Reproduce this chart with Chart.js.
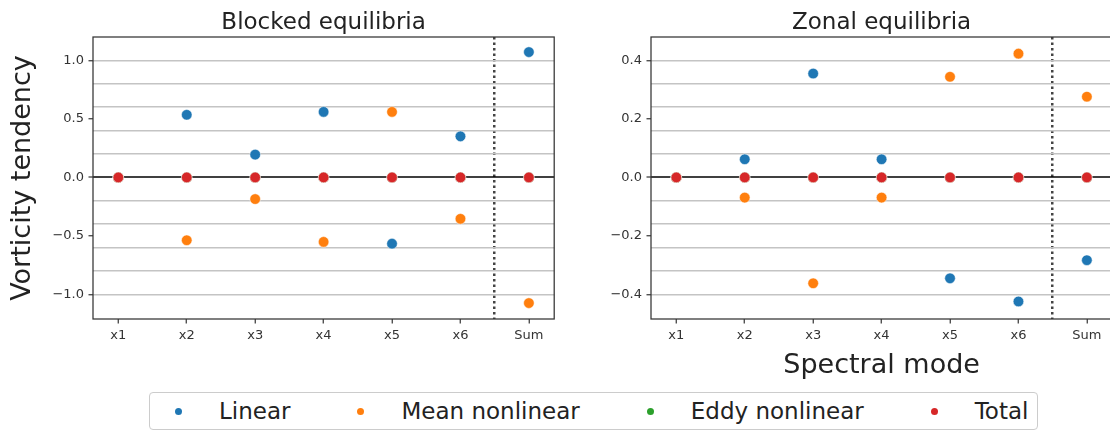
<!DOCTYPE html>
<html>
<head>
<meta charset="utf-8">
<script src="https://cdn.jsdelivr.net/npm/chart.js@4.4.0/dist/chart.umd.min.js"></script>
<style>
  html, body { margin: 0; padding: 0; background: #fff; overflow: hidden; width: 1110px; height: 432px; }
  canvas { position: absolute; top: 0; }
  #blocked { left: 0; }
  #zonal { left: 558px; }
  .bar-legend {
    position: absolute; left: 149px; top: 392px; width: 889px; height: 38px;
    box-sizing: border-box; border: 1px solid #ccc; border-radius: 4px;
    margin: 0; padding: 0 0 0 25px; list-style: none;
    display: flex; align-items: center;
    font-family: 'DejaVu Sans'; font-size: 23px; color: #222;
  }
  .bar-legend li { display: flex; align-items: center; margin-right: 67px; white-space: nowrap; }
  .bar-legend span { display: inline-block; width: 7px; height: 7px; border-radius: 50%; margin-right: 37px; }
</style>
</head>
<body>
<canvas id="blocked" width="560" height="345"></canvas>
<canvas id="zonal" width="560" height="384"></canvas>
<div class="illustrate"></div>
<script>
var categories = ['x1', 'x2', 'x3', 'x4', 'x5', 'x6', 'Sum'];
var seriesNames = ['Linear', 'Mean nonlinear', 'Eddy nonlinear', 'Total'];
var seriesColors = ['#1f77b4', '#ff7f0e', '#2ca02c', '#d62728'];

// blocked equilibria
var blockedLinear = [0, 0.535, 0.195, 0.56, -0.566, 0.351, 1.071];
var blockedMean = [0, -0.537, -0.185, -0.551, 0.56, -0.354, -1.074];
var blockedEddy = [0, 0, 0, 0, 0, 0, 0];
var blockedTotal = [0, 0, 0, 0, 0, 0, 0];

// zonal equilibria
var zonalLinear = [0, 0.062, 0.355, 0.062, -0.345, -0.424, -0.283];
var zonalMean = [0, -0.069, -0.362, -0.069, 0.344, 0.423, 0.276];
var zonalEddy = [0, 0, 0, 0, 0, 0, 0];
var zonalTotal = [0, 0, 0, 0, 0, 0, 0];

// tick labels and horizontal grid levels
var blockedTicks = [-1.0, -0.5, 0.0, 0.5, 1.0];
var blockedGrid = [-1.0, -0.8, -0.6, -0.4, -0.2, 0.0, 0.2, 0.4, 0.6, 0.8, 1.0];
var zonalTicks = [-0.4, -0.2, 0.0, 0.2, 0.4];
var zonalGrid = [-0.4, -0.32, -0.24, -0.16, -0.08, 0.0, 0.08, 0.16, 0.24, 0.32, 0.4];

var FONT = 'DejaVu Sans';
var divider = categories.length - 1.5; // dotted line before "Sum"

function has(list, v) {
    for (var i = 0; i < list.length; i++) {
        if (Math.abs(list[i] - v) < 1e-9) return true;
    }
    return false;
}

function fmt(v) {
    var s = Math.abs(v).toFixed(1);
    return v < -1e-9 ? '\u2212' + s : s;
}

var framePlugin = {
    id: 'frame',
    afterDraw: function(chart) {
        var a = chart.chartArea, c = chart.ctx;
        c.save();
        c.strokeStyle = '#333';
        c.lineWidth = 1.25;
        c.strokeRect(a.left, a.top, a.right - a.left, a.bottom - a.top);
        c.restore();
    }
};

function makeChart(id, title, series, yTicks, yGrid, yMin, yMax, yLabel, xLabel, xHeight) {
    var datasets = [];
    for (var s = 0; s < series.length; s++) {
        var pts = [];
        for (var i = 0; i < categories.length; i++) {
            pts.push({x: i, y: series[s][i]});
        }
        datasets.push({
            label: seriesNames[s],
            data: pts,
            backgroundColor: seriesColors[s],
            borderColor: '#fff',
            pointBorderWidth: 0.5,
            pointRadius: 5.3,
            order: series.length - s
        });
    }

    var yValues = yGrid.slice();
    for (var t = 0; t < yTicks.length; t++) {
        if (!has(yValues, yTicks[t])) yValues.push(yTicks[t]);
    }
    yValues.sort(function(a, b) { return a - b; });

    var xValues = [];
    for (var k = 0; k < categories.length; k++) xValues.push(k);
    xValues.push(divider);
    xValues.sort(function(a, b) { return a - b; });

    return new Chart(document.getElementById(id), {
        type: 'scatter',
        data: {datasets: datasets},
        plugins: [framePlugin],
        options: {
            responsive: false,
            animation: false,
            layout: {padding: {right: 3}},
            plugins: {
                legend: {display: false},
                tooltip: {enabled: false},
                title: {
                    display: true,
                    text: title,
                    fullSize: false,
                    color: '#222',
                    font: {family: FONT, size: 23, weight: 'normal'},
                    padding: {top: 9, bottom: 0.4}
                }
            },
            scales: {
                x: {
                    type: 'linear',
                    min: -0.37,
                    max: categories.length - 0.63,
                    afterBuildTicks: function(scale) {
                        scale.ticks = xValues.map(function(v) { return {value: v}; });
                    },
                    afterFit: function(scale) {
                        scale.height = xHeight;
                        scale.paddingLeft = 0;
                        scale.paddingRight = 0;
                    },
                    ticks: {
                        autoSkip: false,
                        maxRotation: 0,
                        padding: 4.5,
                        color: '#333',
                        font: {family: FONT, size: 13},
                        callback: function(v) { return Number.isInteger(v) ? categories[v] : ''; }
                    },
                    grid: {
                        color: function(ctx) {
                            return ctx.tick && ctx.tick.value === divider ? '#444' : 'rgba(0,0,0,0)';
                        },
                        lineWidth: 2.5,
                        tickColor: function(ctx) {
                            return ctx.tick && Number.isInteger(ctx.tick.value) ? '#333' : 'rgba(0,0,0,0)';
                        },
                        tickLength: 4.5,
                        tickWidth: 1.2
                    },
                    border: {display: false, dash: [2.5, 3]},
                    title: {
                        display: !!xLabel,
                        text: xLabel,
                        color: '#222',
                        font: {family: FONT, size: 27},
                        padding: {top: 0, bottom: 1.5}
                    }
                },
                y: {
                    min: yMin,
                    max: yMax,
                    afterBuildTicks: function(scale) {
                        scale.ticks = yValues.map(function(v) { return {value: v}; });
                    },
                    afterFit: function(scale) {
                        scale.width = 93;
                        scale.paddingTop = 0;
                        scale.paddingBottom = 0;
                    },
                    ticks: {
                        autoSkip: false,
                        padding: 4.5,
                        color: '#333',
                        font: {family: FONT, size: 13},
                        callback: function(v) { return has(yTicks, v) ? fmt(v) : ''; }
                    },
                    grid: {
                        color: function(ctx) {
                            if (!ctx.tick) return 'rgba(0,0,0,0)';
                            var v = ctx.tick.value;
                            if (Math.abs(v) < 1e-9) return 'rgba(0,0,0,0.75)';
                            return has(yGrid, v) ? '#c4c4c4' : 'rgba(0,0,0,0)';
                        },
                        lineWidth: function(ctx) {
                            return ctx.tick && Math.abs(ctx.tick.value) < 1e-9 ? 2 : 1.5;
                        },
                        tickColor: function(ctx) {
                            return ctx.tick && has(yTicks, ctx.tick.value) ? '#333' : 'rgba(0,0,0,0)';
                        },
                        tickLength: 4.5,
                        tickWidth: 1.2
                    },
                    border: {display: false},
                    title: {
                        display: !!yLabel,
                        text: yLabel,
                        color: '#222',
                        font: {family: FONT, size: 27},
                        padding: {top: 7, bottom: 0}
                    }
                }
            }
        }
    });
}

makeChart('blocked', 'Blocked equilibria',
    [blockedLinear, blockedMean, blockedEddy, blockedTotal],
    blockedTicks, blockedGrid, -1.21, 1.2, 'Vorticity tendency', '', 26);

makeChart('zonal', 'Zonal equilibria',
    [zonalLinear, zonalMean, zonalEddy, zonalTotal],
    zonalTicks, zonalGrid, -0.484, 0.48, '', 'Spectral mode', 65);

var illustrate = '<ul class="bar-legend">';
for (var i = 0; i < seriesNames.length; i++) {
    illustrate += '<li><span style="background-color:' + seriesColors[i] + '"></span>' + seriesNames[i] + '</li>';
}
illustrate += '</ul>';
document.querySelector('.illustrate').innerHTML = illustrate;
</script>
</body>
</html>
